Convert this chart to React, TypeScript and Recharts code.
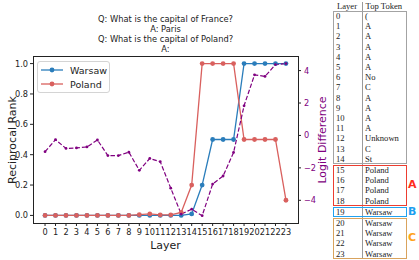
import React from "react";
import { ComposedChart, Line, XAxis, YAxis } from "recharts";

const layers = [0, 1, 2, 3, 4, 5, 6, 7, 8, 9, 10, 11, 12, 13, 14, 15, 16, 17, 18, 19, 20, 21, 22, 23];
const warsawRank = [0, 0, 0, 0, 0, 0, 0, 0, 0, 0, 0, 0, 0, 0, 0.01, 0.2, 0.5, 0.5, 0.5, 1, 1, 1, 1, 1];
const polandRank = [0, 0, 0, 0, 0, 0, 0, 0, 0, 0.005, 0.01, 0.003, 0.003, 0.02, 0.2, 1, 1, 1, 1, 0.5, 0.5, 0.5, 0.5, 0.1];
const logitDiff = [
  -1.0, -0.26, -0.8, -0.77, -0.71, -0.28, -1.24, -1.24, -1.03, -2.15, -1.42, -1.62,
  -3.25, -4.85, -4.55, -4.95, -3.0, -2.5, -1.05, 1.83, 3.74, 3.64, 4.37, 4.43,
];
const rankTicks = [0, 0.2, 0.4, 0.6, 0.8, 1.0];
const diffTicks = [-4, -2, 0, 2, 4];
const titleLines = [
  "Q: What is the capital of France?",
  "A: Paris",
  "Q: What is the capital of Poland?",
  "A:",
];
const topTokens = [
  "(", "A", "A", "A", "A", "A", "No", "C", "A", "A", "A", "A", "Unknown", "C", "St",
  "Poland", "Poland", "Poland", "Poland", "Warsaw", "Warsaw", "Warsaw", "Warsaw", "Warsaw",
];
const tokenGroups = [
  { from: 0, to: 14, tag: "", color: "#a3a3a3", tagColor: "" },
  { from: 15, to: 18, tag: "A", color: "#ec3d30", tagColor: "#ff2c1c" },
  { from: 19, to: 19, tag: "B", color: "#20a2f0", tagColor: "#1c9ff0" },
  { from: 20, to: 23, tag: "C", color: "#d9a35d", tagColor: "#ffa31a" },
];

const data = layers.map((layer, i) => ({
  layer,
  warsaw: warsawRank[i],
  poland: polandRank[i],
  diff: logitDiff[i],
}));

const BLUE = "#2a7dbb";
const RED = "#d9605e";
const PURPLE = "#800080";
const FONT = "'DejaVu Sans', sans-serif";
const SERIF = "'Liberation Serif', serif";

const fmtDiff = (v: number) => (v < 0 ? "\u2212" + Math.abs(v) : String(v));

function Rotated({ text, cx, cy, color }: { text: string; cx: number; cy: number; color: string }) {
  return (
    <div
      style={{
        position: "absolute",
        left: cx,
        top: cy,
        transform: "translate(-50%, -50%) rotate(-90deg)",
        whiteSpace: "nowrap",
        fontSize: 11,
        lineHeight: "12px",
        color,
      }}
    >
      {text}
    </div>
  );
}

function LegendRow({ label, color, top }: { label: string; color: string; top: number }) {
  return (
    <div style={{ position: "absolute", left: 2, top, height: 12, display: "flex", alignItems: "center" }}>
      <svg width={24} height={12}>
        <line x1={1} y1={6} x2={23} y2={6} stroke={color} strokeWidth={1.3} />
        <circle cx={12} cy={6} r={2.4} fill={color} />
      </svg>
      <span style={{ marginLeft: 6, fontSize: 9.5, color: "#222" }}>{label}</span>
    </div>
  );
}

function TokenTable() {
  const rowH = 10.2;
  let y = 11;
  const boxes = tokenGroups.map((g, gi) => {
    const n = g.to - g.from + 1;
    const top = y;
    const h = n * rowH;
    y = top + h + 1;
    return (
      <React.Fragment key={gi}>
        <div
          style={{
            position: "absolute",
            left: 333,
            top,
            width: 74,
            height: h,
            boxSizing: "border-box",
            border: `1.4px solid ${g.color}`,
          }}
        />
        {layers.slice(g.from, g.to + 1).map((layer, k) => (
          <React.Fragment key={layer}>
            <div style={{ position: "absolute", left: 336, top: top + k * rowH, height: rowH, lineHeight: rowH + "px", fontSize: 8.6 }}>
              {layer}
            </div>
            <div style={{ position: "absolute", left: 365, top: top + k * rowH, height: rowH, lineHeight: rowH + "px", fontSize: 8.6 }}>
              {topTokens[layer]}
            </div>
          </React.Fragment>
        ))}
        {g.tag && (
          <div
            style={{
              position: "absolute",
              left: 408,
              top: top + h / 2 - 7,
              fontFamily: FONT,
              fontWeight: "bold",
              fontSize: 11,
              lineHeight: "14px",
              color: g.tagColor,
            }}
          >
            {g.tag}
          </div>
        )}
      </React.Fragment>
    );
  });
  return (
    <div style={{ fontFamily: SERIF, color: "#222" }}>
      <div style={{ position: "absolute", left: 337, top: 1, fontSize: 8.6, lineHeight: "10px" }}>Layer</div>
      <div style={{ position: "absolute", left: 365.5, top: 1, fontSize: 8.6, lineHeight: "10px" }}>Top Token</div>
      <div style={{ position: "absolute", left: 361.5, top: 2, width: 1, height: 257, background: "#9a9a9a" }} />
      {boxes}
    </div>
  );
}

export default function App() {
  return (
    <div style={{ position: "absolute", left: 0, top: 0, width: 419, height: 260, fontFamily: FONT, background: "#fff" }}>
      <ComposedChart width={330} height={260} data={data} margin={{ top: 56, right: 0, bottom: 0, left: 0 }}>
        <XAxis
          type="number"
          dataKey="layer"
          domain={[-1.15, 24.15]}
          ticks={layers}
          interval={0}
          allowDataOverflow
          height={37}
          axisLine={false}
          tickSize={3}
          tickMargin={3}
          tickLine={{ stroke: "#222" }}
          tick={{ fontSize: 8.2, fill: "#222" }}
        />
        <YAxis
          yAxisId="rank"
          domain={[-0.05, 1.05]}
          ticks={rankTicks}
          allowDataOverflow
          width={33}
          axisLine={false}
          tickSize={3}
          tickMargin={2}
          tickLine={{ stroke: "#222" }}
          tickFormatter={(v: number) => v.toFixed(1)}
          tick={{ fontSize: 8.2, fill: "#222" }}
        />
        <YAxis
          yAxisId="diff"
          orientation="right"
          domain={[-5.4, 4.9]}
          ticks={diffTicks}
          allowDataOverflow
          width={32}
          axisLine={false}
          tickSize={3}
          tickMargin={3}
          tickLine={{ stroke: "#222" }}
          tickFormatter={fmtDiff}
          tick={{ fontSize: 8.2, fill: PURPLE }}
        />
        <Line
          yAxisId="rank"
          dataKey="warsaw"
          stroke={BLUE}
          strokeWidth={1.3}
          dot={{ r: 2.4, fill: BLUE, stroke: BLUE, strokeWidth: 0 }}
          activeDot={false}
          isAnimationActive={false}
        />
        <Line
          yAxisId="rank"
          dataKey="poland"
          stroke={RED}
          strokeWidth={1.3}
          dot={{ r: 2.4, fill: RED, stroke: RED, strokeWidth: 0 }}
          activeDot={false}
          isAnimationActive={false}
        />
        <Line
          yAxisId="diff"
          dataKey="diff"
          stroke={PURPLE}
          strokeWidth={1.2}
          strokeDasharray="4.5 2"
          dot={{ r: 1.4, fill: PURPLE, stroke: PURPLE, strokeWidth: 0 }}
          activeDot={false}
          isAnimationActive={false}
        />
      </ComposedChart>

      {/* plot frame */}
      <div
        style={{
          position: "absolute",
          left: 32.5,
          top: 55.5,
          width: 266,
          height: 168,
          boxSizing: "border-box",
          border: "1px solid #222",
          pointerEvents: "none",
        }}
      />

      {titleLines.map((line, i) => (
        <div
          key={i}
          style={{
            position: "absolute",
            left: 165.5,
            top: 14 + i * 10,
            transform: "translateX(-50%)",
            whiteSpace: "nowrap",
            fontSize: 8.3,
            lineHeight: "10px",
            color: "#222",
          }}
        >
          {line}
        </div>
      ))}

      <div
        style={{
          position: "absolute",
          left: 37,
          top: 61,
          width: 73,
          height: 32,
          boxSizing: "border-box",
          border: "1px solid #d4d4d4",
          borderRadius: 3,
          background: "rgba(255,255,255,0.8)",
        }}
      >
        <LegendRow label="Warsaw" color={BLUE} top={2} />
        <LegendRow label="Poland" color={RED} top={16} />
      </div>

      <div
        style={{
          position: "absolute",
          left: 165.5,
          top: 239,
          transform: "translateX(-50%)",
          fontSize: 11,
          lineHeight: "13px",
          color: "#222",
        }}
      >
        Layer
      </div>
      <Rotated text="Reciprocal Rank" cx={13} cy={139.5} color="#222" />
      <Rotated text="Logit Difference" cx={323} cy={139.5} color={PURPLE} />

      <TokenTable />
    </div>
  );
}
